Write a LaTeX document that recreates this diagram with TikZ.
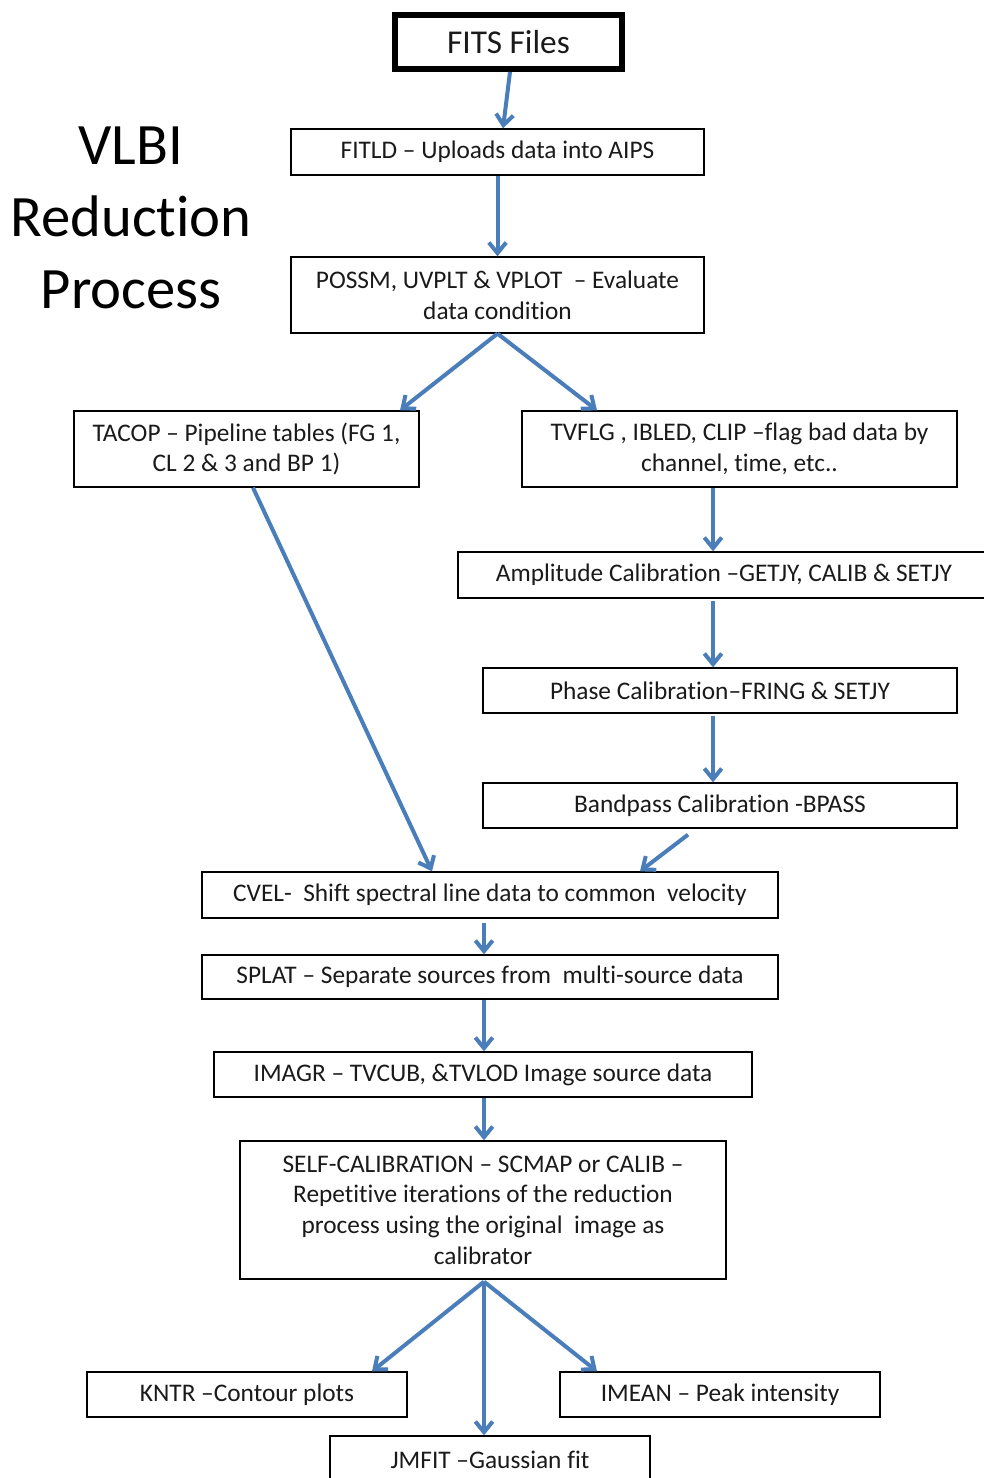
\documentclass[tikz,border=0pt]{standalone}
\usepackage{fontspec}
\setmainfont[Ligatures={TeX,NoCommon}]{Carlito}
\usetikzlibrary{arrows.meta,calc}
\definecolor{arrowblue}{HTML}{4A7EBB}
\definecolor{txt}{HTML}{1A1A1A}
\tikzset{
  box/.style={draw=black, line width=1pt, inner sep=0pt, align=center, text=txt,
    font=\fontsize{19}{23}\selectfont},
  flow/.style={draw=arrowblue, line width=3pt,
    -{Straight Barb[length=8pt,width=13pt,line width=3pt]}},
  title/.style={align=center, text=black, font=\fontsize{44}{54}\selectfont}
}
\begin{document}
\begin{tikzpicture}[x=0.75pt,y=-0.75pt]
\useasboundingbox (0,0) rectangle (984,1478);
\clip (0,0) rectangle (984,1478);
\fill[white] (0,0) rectangle (984,1478);

\node[title] (title) at (131,218) {VLBI\\Reduction\\Process};

\node[box, line width=4.5pt, minimum width=170.25pt, minimum height=40.5pt,
  font=\fontsize{25}{30}\selectfont] (fits) at (508.5,42) {FITS Files};
\node[box, minimum width=309.75pt, minimum height=34.5pt] (fitld) at (497.5,152)
  {FITLD – Uploads data into AIPS};
\node[box, minimum width=309.75pt, minimum height=57pt] (possm) at (497.5,295)
  {POSSM, UVPLT \& VPLOT~~– Evaluate\\data condition};
\node[box, minimum width=258.75pt, minimum height=57pt] (tacop) at (246.5,449)
  {TACOP – Pipeline tables (FG 1,\\CL 2 \& 3 and BP 1)};
\node[box, minimum width=326.25pt, minimum height=57pt] (tvflg) at (739.5,449)
  {TVFLG , IBLED, CLIP –flag bad data by\\channel, time, etc..};
\node[box, minimum width=399pt, minimum height=34.5pt] (amp) at (724,575)
  {Amplitude Calibration –GETJY, CALIB \& SETJY};
\node[box, minimum width=355.5pt, minimum height=33.75pt] (phase) at (720,690.5)
  {Phase Calibration–FRING \& SETJY};
\node[box, minimum width=355.5pt, minimum height=33.75pt] (bpass) at (720,805.5)
  {Bandpass Calibration -BPASS};
\node[box, minimum width=432pt, minimum height=34.5pt] (cvel) at (490,895)
  {CVEL-~ Shift spectral line data to common~ velocity};
\node[box, minimum width=432pt, minimum height=33pt] (splat) at (490,977)
  {SPLAT – Separate sources from~ multi-source data};
\node[box, minimum width=403.5pt, minimum height=33.75pt] (imagr) at (483,1074.5)
  {IMAGR – TVCUB, \&TVLOD Image source data};
\node[box, minimum width=364.5pt, minimum height=103.5pt] (self) at (483,1210)
  {SELF-CALIBRATION – SCMAP or CALIB –\\Repetitive iterations of the reduction\\process using the original~ image as\\calibrator};
\node[box, minimum width=240pt, minimum height=33.75pt] (kntr) at (247,1394.5)
  {KNTR –Contour plots};
\node[box, minimum width=240pt, minimum height=33.75pt] (imean) at (720,1394.5)
  {IMEAN – Peak intensity};
\node[box, minimum width=240pt, minimum height=36pt, text depth=0pt] (jmfit) at (490,1460)
  {JMFIT –Gaussian fit};

\draw[flow] ($(fits.south)+(1.5,0)$) -- ($(fitld.north)+(5.5,0)$);
\draw[flow] (fitld.south) -- (possm.north);
\draw[flow] (possm.south) -- ($(tacop.north)+(153.5,0)$);
\draw[flow] (possm.south) -- ($(tvflg.north)+(-142.5,0)$);
\draw[flow] ($(tacop.south)+(6.5,0)$) -- ($(cvel.north)+(-58,0)$);
\draw[flow] ($(tvflg.south)+(-26.5,0)$) -- ($(amp.north)+(-11,0)$);
\draw[flow] ($(amp.south)+(-11,2)$) -- ($(phase.north)+(-7,0)$);
\draw[flow] ($(phase.south)+(-7,2)$) -- ($(bpass.north)+(-7,0)$);
\draw[flow] ($(bpass.south)+(-32,6)$) -- ($(cvel.north)+(150,0)$);
\draw[flow] ($(cvel.south)+(-6,4)$) -- ($(splat.north)+(-6,0)$);
\draw[flow] ($(splat.south)+(-6,0)$) -- ($(imagr.north)+(1,0)$);
\draw[flow] ($(imagr.south)+(1,0)$) -- ($(self.north)+(1,0)$);
\draw[flow] ($(self.south)+(1,2)$) -- ($(kntr.north)+(125,0)$);
\draw[flow] ($(self.south)+(1,2)$) -- ($(jmfit.north)+(-6,0)$);
\draw[flow] ($(self.south)+(1,2)$) -- ($(imean.north)+(-123,0)$);
\end{tikzpicture}
\end{document}
